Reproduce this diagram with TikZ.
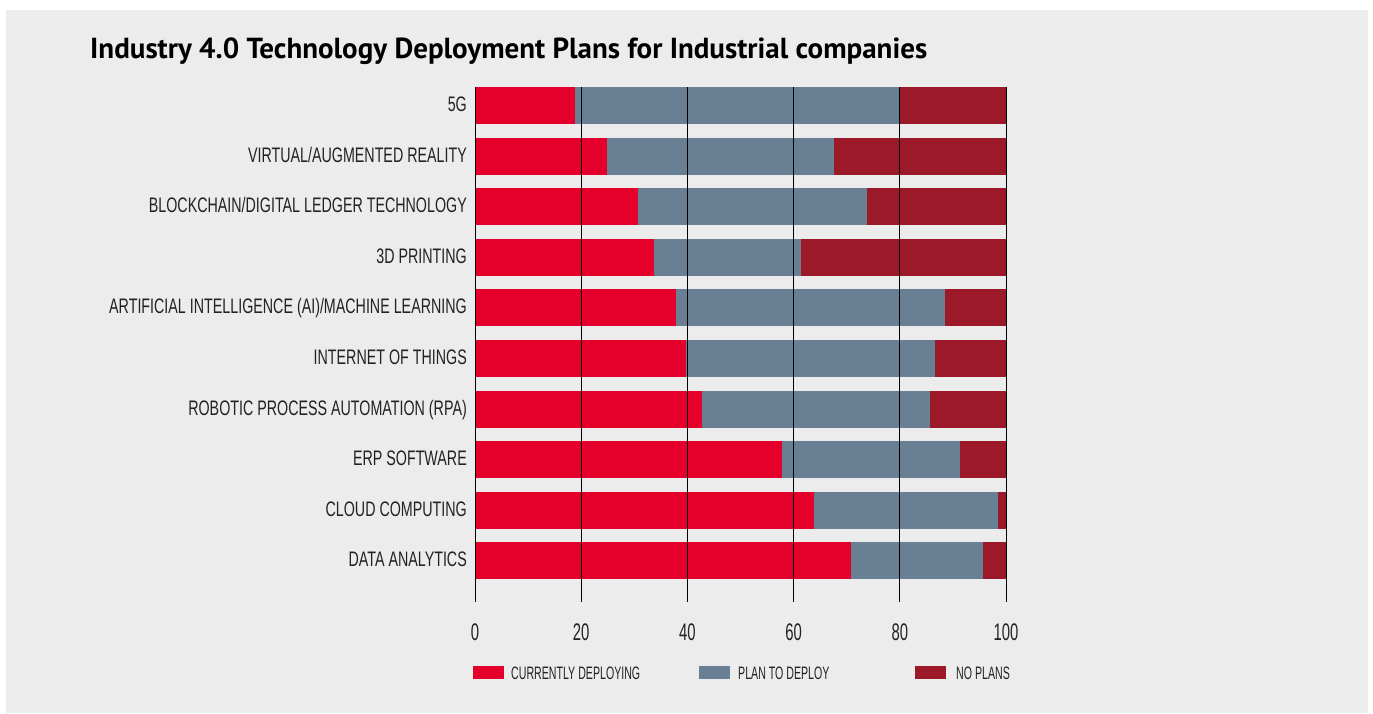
\documentclass[tikz,border=0pt]{standalone}
\usepackage{fontspec}
\newfontfamily\condf[FakeStretch=0.68]{Liberation Sans}
\newfontfamily\tickf[FakeStretch=0.62]{Liberation Sans}
\newfontfamily\legf[FakeStretch=0.59]{Liberation Sans}
\newfontfamily\titlef{PT Sans}
\definecolor{bg}{HTML}{ECECEC}
\definecolor{cur}{HTML}{E4002B}
\definecolor{plan}{HTML}{697F93}
\definecolor{noplan}{HTML}{9B1929}
\definecolor{txt}{HTML}{222222}
\begin{document}
\begin{tikzpicture}[x=1pt,y=-1pt,
  catlabel/.style={anchor=base east,inner sep=0pt,font=\condf\fontsize{21}{21}\selectfont,text=txt},
  ticklabel/.style={anchor=base,inner sep=0pt,font=\tickf\fontsize{24}{24}\selectfont,text=txt},
  leglabel/.style={anchor=base west,inner sep=0pt,font=\legf\fontsize{18}{18}\selectfont,text=txt},
  gridline/.style={draw=black,line width=1pt}]
\useasboundingbox (0,0) rectangle (1373,713);
\fill[white] (0,0) rectangle (1373,713);
\fill[bg] (6,10) rectangle (1368,713);
\node[anchor=base west,inner sep=0pt,font=\titlef\bfseries\fontsize{29}{29}\selectfont] (title) at (90,58) {Industry 4.0 Technology Deployment Plans for Industrial companies};
\def\ux{5.31}
\foreach \lab/\c/\p [count=\i from 0] in {
  {5G}/18.8/80,
  {VIRTUAL/AUGMENTED REALITY}/24.9/67.6,
  {BLOCKCHAIN/DIGITAL LEDGER TECHNOLOGY}/30.7/73.8,
  {3D PRINTING}/33.7/61.4,
  {ARTIFICIAL INTELLIGENCE (AI)/MACHINE LEARNING}/37.9/88.5,
  {INTERNET OF THINGS}/39.7/86.6,
  {ROBOTIC PROCESS AUTOMATION (RPA)}/42.7/85.7,
  {ERP SOFTWARE}/57.8/91.3,
  {CLOUD COMPUTING}/63.8/98.5,
  {DATA ANALYTICS}/70.8/95.7}{
  \pgfmathsetmacro{\yt}{87+\i*50.6}
  \pgfmathsetmacro{\yb}{\yt+37}
  \pgfmathsetmacro{\xc}{475+\c*\ux}
  \pgfmathsetmacro{\xp}{475+\p*\ux}
  \fill[cur] (475,\yt) rectangle (\xc,\yb);
  \fill[plan] (\xc,\yt) rectangle (\xp,\yb);
  \fill[noplan] (\xp,\yt) rectangle (1006,\yb);
  \node[catlabel] (cat\i) at (467,\yt+24.5) {\lab};
}
\foreach \v in {0,20,...,100}{
  \pgfmathsetmacro{\xv}{475+\v*\ux}
  \coordinate (gt\v) at (\xv,87);
  \coordinate (gb\v) at (\xv,602);
  \draw[gridline] (gt\v) -- (gb\v);
  \node[ticklabel] (tick\v) at (\xv,640) {\v};
}
\fill[cur] (473,666) rectangle (504,679);
\node[leglabel] (leg1) at (511,679) {CURRENTLY DEPLOYING};
\fill[plan] (699,666) rectangle (730,679);
\node[leglabel] (leg2) at (738,679) {PLAN TO DEPLOY};
\fill[noplan] (915,666) rectangle (946,679);
\node[leglabel] (leg3) at (956,679) {NO PLANS};
\end{tikzpicture}
\end{document}
